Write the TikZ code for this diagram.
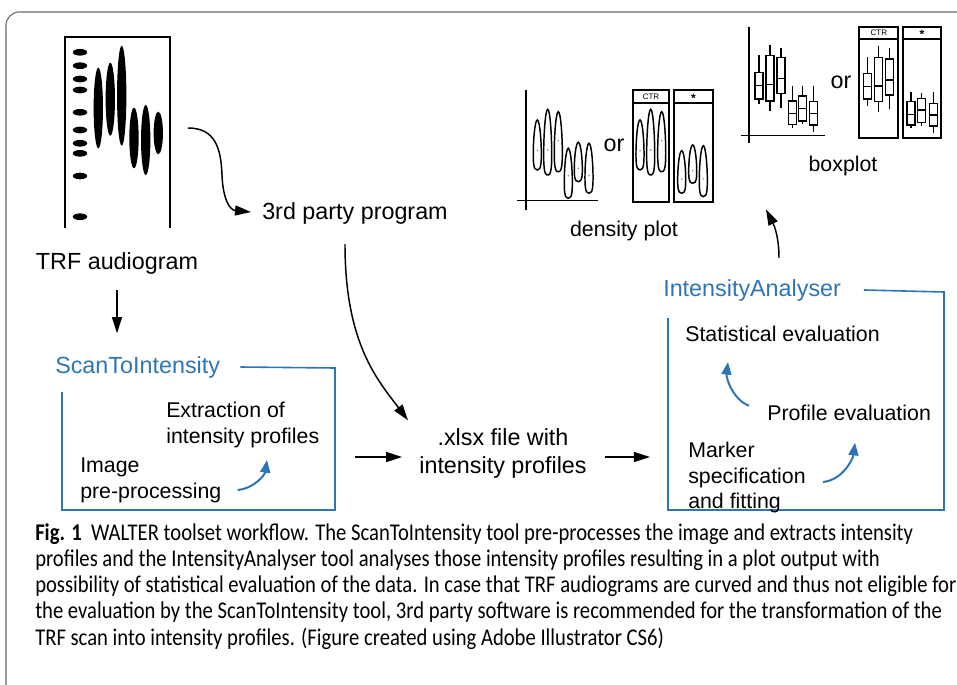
\documentclass[tikz,border=0pt]{standalone}
\usepackage{fontspec}
\setmainfont{Liberation Sans}
\newfontfamily\capfont[FakeStretch=0.86]{Carlito}
\usetikzlibrary{arrows.meta, positioning, calc}
\definecolor{toolblue}{RGB}{46,117,182}
\definecolor{framegray}{RGB}{105,105,105}

\begin{document}
\begin{tikzpicture}[x=0.75pt, y=-0.75pt, >={Triangle[length=12pt, width=7.5pt]},
  txt/.style={font=\fontsize{17.5}{21}\selectfont, inner sep=0pt, align=center},
  intxt/.style={font=\fontsize{16}{19.2}\selectfont, inner sep=0pt, align=left, anchor=west},
  toolname/.style={font=\fontsize{17.5}{21}\selectfont, text=toolblue, inner sep=0pt, anchor=west},
  toolbox/.style={draw=toolblue, line width=1.2pt},
  flow/.style={->, line width=1.1pt},
  subflow/.style={->, draw=toolblue, line width=1.5pt, >={Triangle[length=9.5pt, width=7.5pt]}},
  panel/.style={draw, line width=1.4pt},
  hdr/.style={font=\fontsize{6}{7}\selectfont, inner sep=0pt},
  violin/.style={line width=1.1pt},
  whisk/.style={line width=1.1pt}]
  \useasboundingbox (0,0) rectangle (957,685);

  % outer frame
  \draw[framegray, line width=0.8pt, rounded corners=10pt] (6,685) -- (6,12) -- (957,12);

  % TRF audiogram
  \draw[line width=2.2pt] (65,228) -- (65,37) -- (170,37) -- (170,228);
  \foreach \my in {52.3, 65.7, 79, 90, 112.3, 130, 143.3, 153.3, 176, 216.7}
    \fill (80,\my) ellipse [x radius=5.4pt, y radius=2.5pt];
  \foreach \sx/\st/\sb in {98.3/67.7/148.3, 110.3/62.7/135.7, 121.7/45.7/145.7,
                           134/107.7/168.3, 145.7/105/175, 158.3/111.7/154.3}
    \fill ({\sx}, {(\st+\sb)/2}) ellipse [x radius=3.5pt, y radius={0.375pt*(\sb-\st)}];
  \node[txt] (trf) at (117,263) {TRF audiogram};
  \coordinate (gelout) at (188,128);

  % 3rd party route
  \node[txt, anchor=west] (thirdparty) at (262,213) {3rd party program};
  \draw[flow] (gelout) .. controls (215,128) and (221,148) .. (222,175)
    .. controls (223,200) and (230,210) .. ([shift={(-11,-1)}]thirdparty.west);
  \node[txt] (xlsx) at (503,453.5) {.xlsx file with\\intensity profiles};
  \draw[flow] ([shift={(-10,20)}]thirdparty.south) .. controls +(0,100) and +(-30,-40)
    .. ([shift={(-95,-8)}]xlsx.north);

  % ScanToIntensity
  \node[toolname] (scan) at (55,367) {ScanToIntensity};
  \draw[flow] ([yshift=-12pt]trf.south) -- ([yshift=17pt]trf.south |- scan.north);
  \draw[toolbox] ([xshift=15pt]scan.east) -- (335,368) -- (335,510) -- (62,510) -- (62,392);
  \node[intxt] (extract) at (166,425) {Extraction of\\intensity profiles};
  \node[intxt] (preproc) at (80,480.5) {Image\\pre-processing};
  \draw[subflow] ([shift={(16,9.5)}]preproc.east) .. controls +(18,-2) and +(-2,14)
    .. ([shift={(101,35)}]extract.west);
  \draw[flow] ([shift={(-64,3.5)}]xlsx.west) -- ([shift={(-17,3.5)}]xlsx.west);

  % IntensityAnalyser
  \node[toolname] (analyser) at (663,290) {IntensityAnalyser};
  \draw[toolbox] ([xshift=17pt]analyser.east) -- (944,292) -- (944,510) -- (668,510) -- (668,318);
  \node[intxt] (stat) at (685,334) {Statistical evaluation};
  \node[intxt] (profile) at (767,412.7) {Profile evaluation};
  \node[intxt] (marker) at (688,477.5) {Marker\\specification\\and fitting};
  \draw[flow] ([shift={(18,3.5)}]xlsx.east) -- ([shift={(63,3.5)}]xlsx.east);
  \draw[subflow] ([shift={(-18,-7)}]profile.west) .. controls +(-16,-6) and +(-2,16)
    .. ([shift={(43,28)}]stat.west);
  \draw[subflow] ([shift={(17,4.5)}]marker.east) .. controls +(20,-2) and +(-2,16)
    .. ([shift={(88,30)}]profile.west);

  % density plot
  \draw[line width=1pt] (526,90) -- (526,210);
  \draw[line width=1pt] (516.7,200.7) -- (598.3,200.7);
  \node[txt] (or1) at (614,145) {or};
  \draw[panel] (632.7,90) rectangle (669.3,201.7);
  \draw[panel] (632.7,102.7) -- (669.3,102.7);
  \draw[panel] (674.3,90) rectangle (712.7,201.7);
  \draw[panel] (674.3,102.7) -- (712.7,102.7);
  \node[hdr] (ctr1) at (651,96.3) {CTR};
  \node[hdr, font=\bfseries\fontsize{9}{9}\selectfont] (star1) at (693.5,98) {*};
  \foreach \vx/\vt/\vb/\vd in {537.3/120/170/150.7, 547.7/109.3/175/150, 558.3/111.7/171.7/140.7,
      568.3/148.3/198.3/175.7, 578.3/142.3/181.7/168.3, 589/143.3/193.3/175.7,
      640/120/170/150.7, 650.7/109.3/175/150, 661.7/111.7/171.7/140.7,
      681.7/150.7/193.3/179, 692.7/145/183.3/170.7, 703.3/145.7/196.7/179} {
    \draw[violin] (\vx,\vt) .. controls ({\vx+2.5},\vt) and ({\vx+4.3},{\vt+0.45*(\vb-\vt)}) .. ({\vx+4},{\vt+0.75*(\vb-\vt)})
      .. controls ({\vx+3.8},\vb) and ({\vx+1.5},\vb) .. (\vx,\vb)
      .. controls ({\vx-1.5},\vb) and ({\vx-3.8},\vb) .. ({\vx-4},{\vt+0.75*(\vb-\vt)})
      .. controls ({\vx-4.3},{\vt+0.45*(\vb-\vt)}) and ({\vx-2.5},\vt) .. cycle;
    \fill[gray] (\vx,\vd) circle [radius=0.6pt];
  }
  \node[txt, font=\fontsize{16}{19}\selectfont] (density) at (624,231) {density plot};

  % boxplot
  \draw[line width=1pt] (749,26.7) -- (749,143.3);
  \draw[line width=1pt] (741,135.7) -- (825,135.7);
  \node[txt] (or2) at (841,82) {or};
  \draw[panel] (859.3,26.7) rectangle (898.3,137.7);
  \draw[panel] (859.3,39) -- (898.3,39);
  \draw[panel] (902.7,26.7) rectangle (941,137.7);
  \draw[panel] (902.7,39) -- (941,39);
  \node[hdr] (ctr2) at (878.8,32.9) {CTR};
  \node[hdr, font=\bfseries\fontsize{9}{9}\selectfont] (star2) at (921.9,34.6) {*};
  \foreach \bx/\wt/\bt/\bm/\bb/\wb in {759/55/72.3/85.7/99/104.3, 770/45/55.7/84.3/101/111,
      781/47.7/57.7/78.3/93.3/107.7, 792.3/85.7/101/113.3/124.3/128.3,
      802.7/85.7/96/108.3/121/124.3, 813.7/85.7/101.7/113.7/125/132.3,
      867.7/56.7/73.3/86.7/99/105.7, 878.3/46/57.3/86/101.7/111.7, 889.3/48.3/59/80/95/109,
      911/92.3/101.7/114.3/125/128.3, 921.7/93/98.3/110/122.3/125.7, 933.3/91.7/103.3/115/126/133.3} {
    \draw[whisk] (\bx,\wt) -- (\bx,\bt);
    \draw[whisk] (\bx,\bb) -- (\bx,\wb);
    \draw[whisk] ({\bx-4},\bt) rectangle ({\bx+4},\bb);
    \draw[whisk] ({\bx-4},\bm) -- ({\bx+4},\bm);
  }
  \node[txt, font=\fontsize{16}{19}\selectfont] (boxplot) at (843,166) {boxplot};
  \draw[flow] ([shift={(116,-21)}]analyser.north west) .. controls +(0,-25) and +(6,12)
    .. ([shift={(-77,33)}]boxplot.south);

  % caption
  \node[anchor=north west, inner sep=0pt, align=left, font=\capfont\fontsize{18}{19.7}\selectfont] (caption) at (35,523)
    {\textbf{Fig. 1}\ \ WALTER toolset workflow. The ScanToIntensity tool pre-processes the image and extracts intensity\\
     profiles and the IntensityAnalyser tool analyses those intensity profiles resulting in a plot output with\\
     possibility of statistical evaluation of the data. In case that TRF audiograms are curved and thus not eligible for\\
     the evaluation by the ScanToIntensity tool, 3rd party software is recommended for the transformation of the\\
     TRF scan into intensity profiles. (Figure created using Adobe Illustrator CS6)};
\end{tikzpicture}
\end{document}
